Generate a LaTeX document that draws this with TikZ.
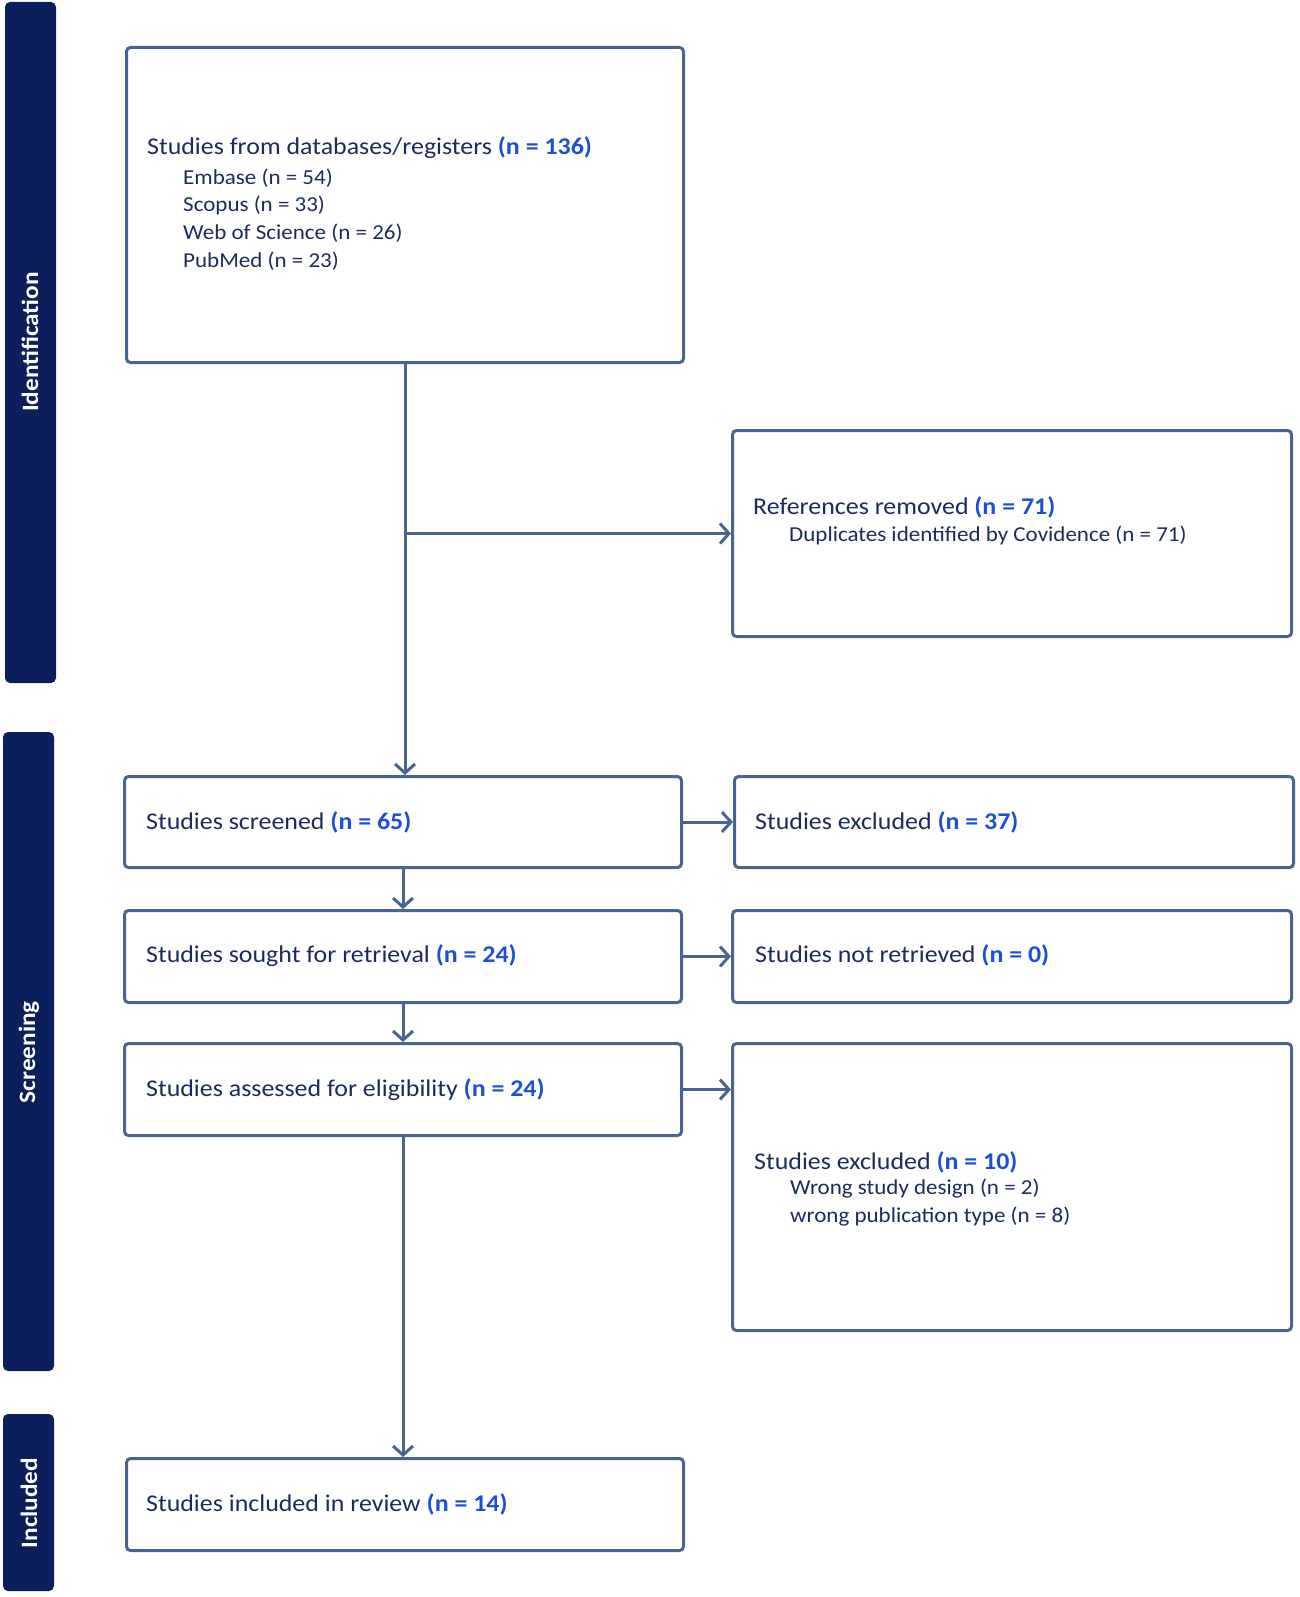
\documentclass[tikz,border=0pt]{standalone}
\usepackage{fontspec}
\setmainfont{Carlito}[FakeStretch=1.08]
\usetikzlibrary{arrows.meta}
\definecolor{navy}{HTML}{0B1F5C}
\definecolor{frame}{HTML}{4A6491}
\definecolor{txt}{HTML}{1C2B5E}
\definecolor{num}{HTML}{1D4FD6}
\newcommand{\nval}[1]{\textcolor{num}{\textbf{(n = #1)}}}
\begin{document}
\begin{tikzpicture}[x=1pt,y=-1pt,
	box/.style={draw=frame,line width=3pt,rounded corners=4pt,anchor=north west,inner sep=0pt},
	bar/.style={fill=navy,rounded corners=5pt},
	phase/.style={rotate=90,text=white,font=\fontsize{23.4}{28}\selectfont\bfseries},
	head/.style={anchor=west,text=txt,inner sep=0pt,font=\fontsize{24}{29}\selectfont},
	sub/.style={anchor=west,text=txt,inner sep=0pt,font=\fontsize{21.3}{26}\selectfont},
	flow/.style={draw=frame,line width=3pt,-{Straight Barb[length=9pt,width=20pt]}}]
	\useasboundingbox (0,0) rectangle (1299,1597);
	% Phases
	\fill[bar] (5,2) rectangle (56,683);
	\fill[bar] (3,732) rectangle (54,1371);
	\fill[bar] (3,1414) rectangle (54,1591);
	\node[phase] (idlab) at (30,342) {Identification};
	\node[phase] (scrlab) at (29,1052) {Screening};
	\node[phase] (inclab) at (29,1503) {Included};
	% Boxes
	\node[box,minimum width=557pt,minimum height=315pt] (db) at (125,46) {};
	\node[box,minimum width=559pt,minimum height=206pt] (removed) at (731,429) {};
	\node[box,minimum width=557pt,minimum height=91pt] (screen) at (123,775) {};
	\node[box,minimum width=559pt,minimum height=91pt] (excl) at (733,775) {};
	\node[box,minimum width=557pt,minimum height=92pt] (sought) at (123,909) {};
	\node[box,minimum width=559pt,minimum height=92pt] (notret) at (731,909) {};
	\node[box,minimum width=557pt,minimum height=92pt] (assess) at (123,1042) {};
	\node[box,minimum width=559pt,minimum height=287pt] (exclb) at (731,1042) {};
	\node[box,minimum width=557pt,minimum height=92pt] (incl) at (125,1457) {};
	% Flow
	\draw[flow] (db.south) -- (db.south |- screen.north);
	\draw[flow] (db.south |- removed.west) -- (removed.west);
	\draw[flow] (screen.south) -- (sought.north);
	\draw[flow] (sought.south) -- (assess.north);
	\draw[flow] (assess.south) -- (assess.south |- incl.north);
	\draw[flow] (screen.east) -- (excl.west);
	\draw[flow] (sought.east) -- (notret.west);
	\draw[flow] (assess.east) -- (exclb.west |- assess.east);
	% Labels
	\node[head] (dbt) at (147,148) {Studies from databases/registers \nval{136}};
	\node[sub] (dbt1) at (183,178) {Embase (n = 54)};
	\node[sub] (dbt2) at (183,205) {Scopus (n = 33)};
	\node[sub] (dbt3) at (183,233) {Web of Science (n = 26)};
	\node[sub] (dbt4) at (183,261) {PubMed (n = 23)};
	\node[head] (removedt) at (753,507) {References removed \nval{71}};
	\node[sub] (removedt1) at (789,535) {Duplicates identified by Covidence (n = 71)};
	\node[head] (screent) at (146,822) {Studies screened \nval{65}};
	\node[head] (exclt) at (755,822) {Studies excluded \nval{37}};
	\node[head] (soughtt) at (146,956) {Studies sought for retrieval \nval{24}};
	\node[head] (notrett) at (755,955) {Studies not retrieved \nval{0}};
	\node[head] (assesst) at (146,1090) {Studies assessed for eligibility \nval{24}};
	\node[head] (exclbt) at (754,1162) {Studies excluded \nval{10}};
	\node[sub] (exclbt1) at (790,1189) {Wrong study design (n = 2)};
	\node[sub] (exclbt2) at (790,1217) {wrong publication type (n = 8)};
	\node[head] (inclt) at (146,1504) {Studies included in review \nval{14}};
\end{tikzpicture}
\end{document}
